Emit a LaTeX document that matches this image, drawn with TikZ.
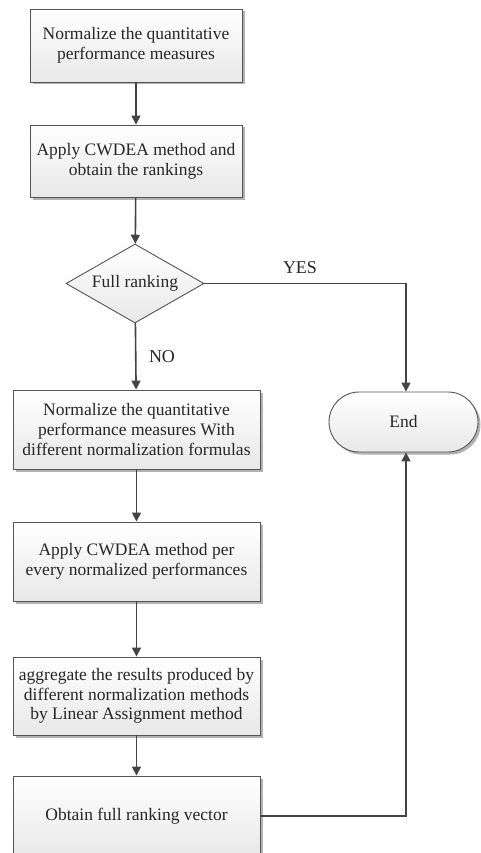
\documentclass[tikz,border=0pt]{standalone}
\usepackage{fontspec}
\setmainfont{Liberation Serif}
\usetikzlibrary{arrows.meta,shapes.geometric,shapes.misc,shadows}
\definecolor{edge}{HTML}{555555}
\definecolor{arrowc}{HTML}{444444}
\tikzset{
  every node/.style={font=\fontsize{17.5}{19.7}\selectfont, text=black!85},
  boxstyle/.style={draw=edge, line width=0.9pt, top color=white, bottom color=black!9,
    align=center, inner sep=0pt,
    drop shadow={shadow xshift=2.5pt, shadow yshift=-2.5pt, fill=black!30, opacity=1}},
  diastyle/.style={diamond, draw=edge, line width=0.9pt, top color=white, bottom color=black!9,
    inner sep=0pt, minimum width=138pt, minimum height=79pt, aspect=1.75},
  endstyle/.style={rounded rectangle, draw=edge, line width=0.9pt, top color=white, bottom color=black!9,
    minimum width=149pt, minimum height=60pt, inner sep=0pt,
    drop shadow={shadow xshift=2.5pt, shadow yshift=-2.5pt, fill=black!30, opacity=1}},
  arr/.style={draw=arrowc, line width=1.6pt, -{Triangle[length=9pt,width=9pt]}},
  lbl/.style={font=\fontsize{18}{20}\selectfont},
}
\begin{document}
\begin{tikzpicture}[x=1pt,y=-1pt]
\path[use as bounding box] (0,0) rectangle (481,853);
\clip (0,0) rectangle (481,853);
\fill[white] (0,0) rectangle (481,853);

\node[boxstyle, minimum width=212pt, minimum height=73pt] (b1) at (136,45.5)
  {Normalize the quantitative\\performance measures};
\node[boxstyle, minimum width=212pt, minimum height=72pt] (b2) at (136,161)
  {Apply CWDEA method and\\obtain the rankings};
\node[diastyle] (dia) at (135,283.5) {Full ranking};
\node[boxstyle, minimum width=247pt, minimum height=79pt] (b3) at (136.5,429.5)
  {Normalize the quantitative\\performance measures With\\different normalization formulas};
\node[boxstyle, minimum width=247pt, minimum height=79pt] (b4) at (136.5,561.5)
  {Apply CWDEA method per\\every normalized performances};
\node[boxstyle, minimum width=247pt, minimum height=78pt] (b5) at (136.5,696)
  {aggregate the results produced by\\different normalization methods\\by Linear Assignment method};
\node[boxstyle, minimum width=247pt, minimum height=80pt] (b6) at (136.5,816)
  {Obtain full ranking vector};
\node[endstyle] (end) at (403.5,422) {End};

\node[lbl] (yes) at (300,268) {YES};
\node[lbl] (no) at (162,357) {NO};

\coordinate (cyes) at (406,283.5);
\coordinate (cbot) at (406,816);

\draw[arr] (b1) -- (b2);
\draw[arr] (b2) -- (dia);
\draw[arr] (dia) -- (b3);
\draw[arr] (b3) -- (b4);
\draw[arr] (b4) -- (b5);
\draw[arr] (b5) -- (b6);
\draw[arr] (dia.east) -- (cyes) -- (cyes |- end.north);
\draw[arr] (b6.east) -- (cbot) -- (cbot |- end.south);
\end{tikzpicture}
\end{document}
